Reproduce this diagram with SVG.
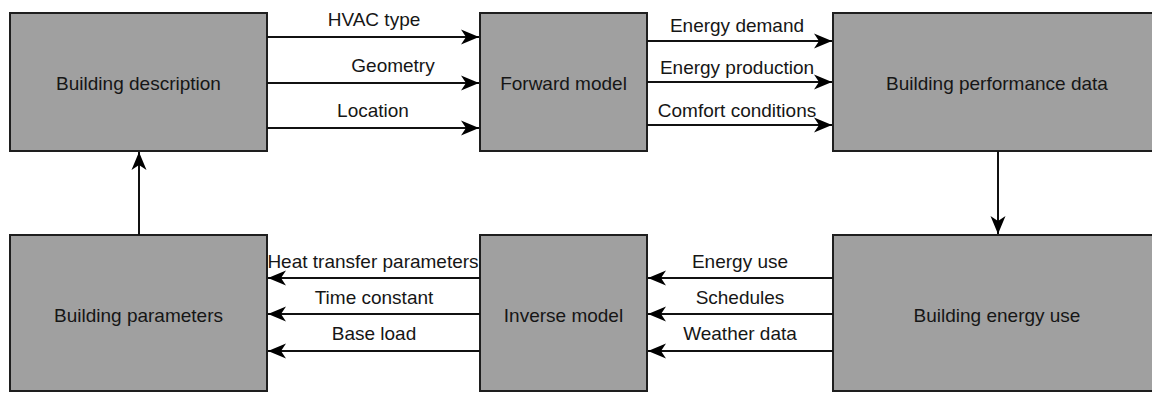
<svg xmlns="http://www.w3.org/2000/svg" width="1152" height="393" viewBox="0 0 1152 393">
<defs>
<style>
.box{fill:#a0a0a0;stroke:#1e1e1e;stroke-width:2}
.t{font-family:"Liberation Sans",Arial,sans-serif;font-size:19px;fill:#161616;text-anchor:middle}
.c{stroke:#111;stroke-width:2;fill:none;marker-end:url(#ah)}
</style>
<marker id="ah" viewBox="-18 -8 19 16" refX="0" refY="0" markerWidth="19" markerHeight="16" markerUnits="userSpaceOnUse" orient="auto">
<path d="M0,0 L-18,-7.5 L-13,0 L-18,7.5 Z" fill="#000"/>
</marker>
</defs>
<rect width="1152" height="393" fill="#fff"/>
<g id="building-description"><rect class="box" x="10" y="13" width="257" height="138"/><text class="t" x="138.5" y="90">Building description</text></g>
<g id="forward-model"><rect class="box" x="480" y="13" width="167" height="138"/><text class="t" x="563.5" y="90">Forward model</text></g>
<g id="building-performance-data"><rect class="box" x="833" y="13" width="330" height="138"/><text class="t" x="997" y="90">Building performance data</text></g>
<g id="building-parameters"><rect class="box" x="10" y="235" width="257" height="156"/><text class="t" x="138.5" y="322">Building parameters</text></g>
<g id="inverse-model"><rect class="box" x="480" y="235" width="167" height="156"/><text class="t" x="563.5" y="322">Inverse model</text></g>
<g id="building-energy-use"><rect class="box" x="833" y="235" width="330" height="156"/><text class="t" x="997" y="322">Building energy use</text></g>
<g id="connectors">
<path class="c" d="M267,37 H479"/>
<path class="c" d="M267,83 H479"/>
<path class="c" d="M267,128 H479"/>
<path class="c" d="M647,41 H832"/>
<path class="c" d="M647,82 H832"/>
<path class="c" d="M647,125 H832"/>
<path class="c" d="M998,151 V234"/>
<path class="c" d="M833,278 H648"/>
<path class="c" d="M833,314 H648"/>
<path class="c" d="M833,351 H648"/>
<path class="c" d="M480,278 H268"/>
<path class="c" d="M480,314 H268"/>
<path class="c" d="M480,351 H268"/>
<path class="c" d="M139,235 V152"/>
<text class="t" x="374" y="26">HVAC type</text>
<text class="t" x="393" y="72">Geometry</text>
<text class="t" x="373" y="117">Location</text>
<text class="t" x="737" y="32">Energy demand</text>
<text class="t" x="737" y="74">Energy production</text>
<text class="t" x="737" y="117">Comfort conditions</text>
<text class="t" x="373" y="268">Heat transfer parameters</text>
<text class="t" x="374" y="304">Time constant</text>
<text class="t" x="374" y="340">Base load</text>
<text class="t" x="740" y="268">Energy use</text>
<text class="t" x="740" y="304">Schedules</text>
<text class="t" x="740" y="340">Weather data</text>
</g>
</svg>
